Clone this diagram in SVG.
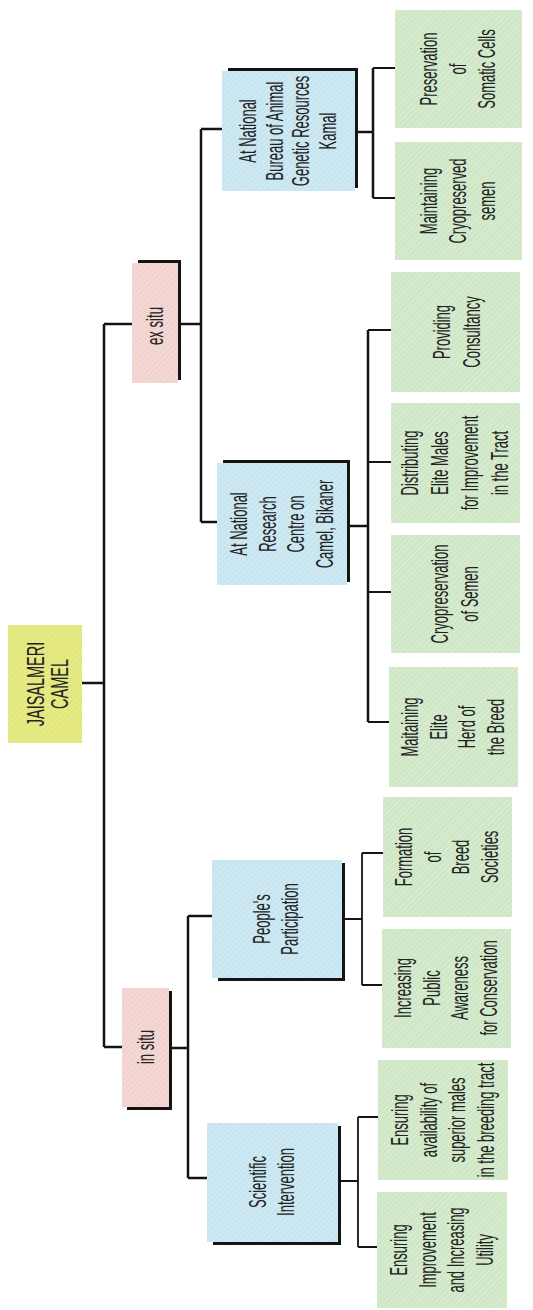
<svg xmlns="http://www.w3.org/2000/svg" width="533" height="1310" viewBox="0 0 533 1310">
<defs>
<pattern id="hg" width="4" height="4" patternUnits="userSpaceOnUse" patternTransform="rotate(45)"><rect width="4" height="4" fill="#cfe7c6"/><line x1="0" y1="0" x2="0" y2="4" stroke="#e6f3df" stroke-width="1.2"/></pattern>
<pattern id="hb" width="4" height="4" patternUnits="userSpaceOnUse" patternTransform="rotate(45)"><rect width="4" height="4" fill="#c6e5f0"/><line x1="0" y1="0" x2="0" y2="4" stroke="#e2f2f8" stroke-width="1.2"/></pattern>
<pattern id="hp" width="4" height="4" patternUnits="userSpaceOnUse" patternTransform="rotate(45)"><rect width="4" height="4" fill="#f1d2ce"/><line x1="0" y1="0" x2="0" y2="4" stroke="#f8e6e3" stroke-width="1.2"/></pattern>
<pattern id="hy" width="4" height="4" patternUnits="userSpaceOnUse" patternTransform="rotate(45)"><rect width="4" height="4" fill="#e1e77a"/><line x1="0" y1="0" x2="0" y2="4" stroke="#ecf0a6" stroke-width="1.2"/></pattern>
</defs>
<style>
.g{fill:url(#hg)}
.b{fill:url(#hb)}
.p{fill:url(#hp)}
.y{fill:url(#hy)}
.sh{fill:none;stroke:#141414;stroke-width:3}
.c{fill:none;stroke:#141414;stroke-width:2.5}
.c2{fill:none;stroke:#141414;stroke-width:1.8}
text{font-family:"Liberation Sans",Arial,sans-serif;font-size:23px;fill:#222222;text-anchor:middle}
</style>
<rect width="533" height="1310" fill="#ffffff"/>

<g id="connectors">
<path class="c" d="M82,683 H104 M104,324 V1047 M104,324 H132 M104,1047 H122"/>
<path class="c" d="M178,324 H201 M201,129 V522 M201,129 H222 M201,522 H217"/>
<path class="c" d="M355,132 H373 M373,68 V198"/>
<path class="c2" d="M373,68 H395 M373,198 H395"/>
<path class="c" d="M347,526 H368 M368,330 V722"/>
<path class="c2" d="M368,330 H391 M368,462 H391 M368,592 H391 M368,722 H391"/>
<path class="c" d="M169,1048 H188 M188,916 V1178 M188,916 H212 M188,1178 H207"/>
<path class="c2" d="M342,919 H362 M362,853 V985 M362,853 H383 M362,985 H383"/>
<path class="c2" d="M338,1181 H358 M358,1117 V1247 M358,1117 H378 M358,1247 H378"/>
</g>

<g id="root">
<rect class="y" x="8" y="625" width="74" height="118"/>
<g transform="translate(48,684) rotate(-90) scale(0.63,1)"><text><tspan x="0" y="-4.5">JAISALMERI</tspan><tspan x="0" y="20.5">CAMEL</tspan></text></g>
</g>

<g id="ex-situ">
<path class="sh" d="M138,261.5 H179.5 V380"/>
<rect class="p" x="132" y="263" width="46" height="120"/>
<g transform="translate(155,326) rotate(-90) scale(0.57,1)"><text><tspan x="0" y="8">ex situ</tspan></text></g>
</g>

<g id="nbagr">
<path class="sh" d="M228,69.5 H356.5 V188"/>
<rect class="b" x="222" y="71" width="133" height="120"/>
<g transform="translate(288,131) rotate(-90) scale(0.565,1)"><text><tspan x="0" y="-32.5">At National</tspan><tspan x="0" y="-5.5">Bureau of Animal</tspan><tspan x="0" y="21.5">Genetic Resources</tspan><tspan x="0" y="48.5">Kamal</tspan></text></g>
</g>

<g id="nrcc">
<path class="sh" d="M223,461.5 H348.5 V582"/>
<rect class="b" x="217" y="463" width="130" height="122"/>
<g transform="translate(282,524) rotate(-90) scale(0.565,1)"><text><tspan x="0" y="-35.5">At National</tspan><tspan x="0" y="-6.5">Research</tspan><tspan x="0" y="22.5">Centre on</tspan><tspan x="0" y="51.5">Camel, Bikaner</tspan></text></g>
</g>

<g id="in-situ">
<path class="sh" d="M170.5,991 V1108.5 H127"/>
<rect class="p" x="122" y="988" width="47" height="119"/>
<g transform="translate(146,1047) rotate(-90) scale(0.57,1)"><text><tspan x="0" y="8">in situ</tspan></text></g>
</g>

<g id="peoples-participation">
<path class="sh" d="M343.5,863 V979.5 H218"/>
<rect class="b" x="212" y="860" width="130" height="118"/>
<g transform="translate(276,919) rotate(-90) scale(0.565,1)"><text><tspan x="0" y="-6">People's</tspan><tspan x="0" y="22">Participation</tspan></text></g>
</g>

<g id="scientific-intervention">
<path class="sh" d="M339.5,1126 V1243.5 H213"/>
<rect class="b" x="207" y="1123" width="131" height="119"/>
<g transform="translate(272,1182) rotate(-90) scale(0.565,1)"><text><tspan x="0" y="-6.5">Scientific</tspan><tspan x="0" y="22.5">Intervention</tspan></text></g>
</g>

<g id="preservation-somatic">
<rect class="g" x="395" y="10" width="127" height="118"/>
<g transform="translate(458,69) rotate(-90) scale(0.565,1)"><text><tspan x="0" y="-21">Preservation</tspan><tspan x="0" y="8">of</tspan><tspan x="0" y="37">Somatic Cells</tspan></text></g>
</g>

<g id="maintaining-cryopreserved">
<rect class="g" x="395" y="142" width="127" height="118"/>
<g transform="translate(458,201) rotate(-90) scale(0.565,1)"><text><tspan x="0" y="-21">Maintaining</tspan><tspan x="0" y="8">Cryopreserved</tspan><tspan x="0" y="37">semen</tspan></text></g>
</g>

<g id="providing-consultancy">
<rect class="g" x="391" y="272" width="129" height="120"/>
<g transform="translate(457,332) rotate(-90) scale(0.565,1)"><text><tspan x="0" y="-7">Providing</tspan><tspan x="0" y="23">Consultancy</tspan></text></g>
</g>

<g id="distributing-elite">
<rect class="g" x="391" y="403" width="129" height="120"/>
<g transform="translate(455,463) rotate(-90) scale(0.565,1)"><text><tspan x="0" y="-37">Distributing</tspan><tspan x="0" y="-7">Elite Males</tspan><tspan x="0" y="23">for Improvement</tspan><tspan x="0" y="53">in the Tract</tspan></text></g>
</g>

<g id="cryopreservation-semen">
<rect class="g" x="391" y="535" width="129" height="118"/>
<g transform="translate(455,594) rotate(-90) scale(0.565,1)"><text><tspan x="0" y="-7">Cryopreservation</tspan><tspan x="0" y="23">of Semen</tspan></text></g>
</g>

<g id="maitaining-elite-herd">
<rect class="g" x="389" y="667" width="129" height="120"/>
<g transform="translate(453,727) rotate(-90) scale(0.565,1)"><text><tspan x="0" y="-35.5">Maitaining</tspan><tspan x="0" y="-6.5">Elite</tspan><tspan x="0" y="22.5">Herd of</tspan><tspan x="0" y="51.5">the Breed</tspan></text></g>
</g>

<g id="formation-breed-societies">
<rect class="g" x="383" y="797" width="129" height="120"/>
<g transform="translate(447,857) rotate(-90) scale(0.565,1)"><text><tspan x="0" y="-35.5">Formation</tspan><tspan x="0" y="-6.5">of</tspan><tspan x="0" y="22.5">Breed</tspan><tspan x="0" y="51.5">Societies</tspan></text></g>
</g>

<g id="increasing-public-awareness">
<rect class="g" x="382" y="929" width="129" height="119"/>
<g transform="translate(446,988) rotate(-90) scale(0.565,1)"><text><tspan x="0" y="-35.5">Increasing</tspan><tspan x="0" y="-6.5">Public</tspan><tspan x="0" y="22.5">Awareness</tspan><tspan x="0" y="51.5">for Conservation</tspan></text></g>
</g>

<g id="ensuring-availability">
<rect class="g" x="378" y="1060" width="130" height="120"/>
<g transform="translate(443,1120) rotate(-90) scale(0.565,1)"><text><tspan x="0" y="-35.5">Ensuring</tspan><tspan x="0" y="-6.5">availability of</tspan><tspan x="0" y="22.5">superior males</tspan><tspan x="0" y="51.5">in the breeding tract</tspan></text></g>
</g>

<g id="ensuring-improvement">
<rect class="g" x="377" y="1192" width="130" height="116"/>
<g transform="translate(442,1250) rotate(-90) scale(0.565,1)"><text><tspan x="0" y="-35.5">Ensuring</tspan><tspan x="0" y="-6.5">Improvement</tspan><tspan x="0" y="22.5">and Increasing</tspan><tspan x="0" y="51.5">Utility</tspan></text></g>
</g>
</svg>
